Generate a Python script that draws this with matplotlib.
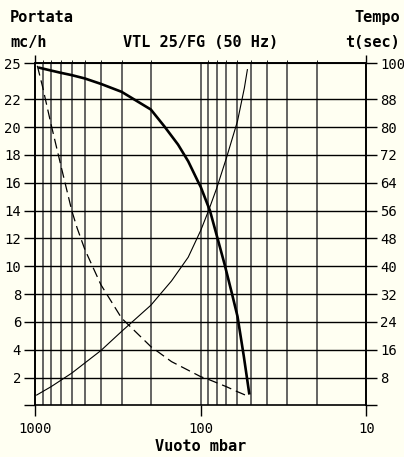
import numpy as np
import matplotlib.pyplot as plt
from matplotlib.ticker import NullFormatter, FixedLocator

# curva portata (mc/h) vs vuoto (mbar) - linea spessa
p_portata = [941, 800, 700, 600, 500, 400, 300, 200, 166, 137, 119, 104, 100, 88, 80, 72, 65, 60, 55, 51]
q_portata = [24.26, 24.06, 23.9, 23.73, 23.49, 23.1, 22.53, 21.26, 20.06, 18.74, 17.54, 16.1, 15.7,
             14.0, 12.2, 10.2, 8.1, 6.4, 3.56, 0.88]

# curva tempo (sec) - linea sottile, scala destra
p_tempo = [977, 800, 600, 400, 300, 200, 150, 119, 100, 90, 80, 70, 60, 54.5, 52.3]
t_tempo = [3.0, 5.4, 9.3, 15.8, 21.3, 28.8, 35.8, 42.6, 50.3, 55.8, 62.5, 71.1, 81.7, 91.3, 96.5]

# curva tratteggiata (scala sinistra)
p_tratt = [968, 900, 800, 700, 600, 557, 500, 400, 300, 200, 150, 100, 90, 70, 60, 51]
q_tratt = [24.4, 22.9, 20.2, 17.3, 14.0, 12.75, 11.2, 8.67, 6.27, 4.23, 3.15, 2.07, 1.88, 1.35, 0.99, 0.63]

left_ticks = [0, 2, 4, 6, 8, 10, 12, 14, 16, 18, 20, 22, 24.6]
left_labels = ["", "2", "4", "6", "8", "10", "12", "14", "16", "18", "20", "22", "25"]
right_ticks = [0, 8, 16, 24, 32, 40, 48, 56, 64, 72, 80, 88, 98.4]
right_labels = ["", "8", "16", "24", "32", "40", "48", "56", "64", "72", "80", "88", "100"]
x_major = [1000, 100, 10]
x_minor = [900, 800, 700, 600, 500, 400, 300, 200, 90, 80, 70, 60, 50, 40, 30, 20]

bg = "#fffff2"
font = "DejaVu Sans Mono"

fig = plt.figure(figsize=(4.04, 4.57), dpi=100, facecolor=bg)
ax = fig.add_axes([0.0866, 0.1127, 0.8205, 0.7494], facecolor=bg)

ax.set_xscale("log")
ax.set_xlim(1000, 10)
ax.set_ylim(0, 24.6)

# griglia
for x in x_minor + [100]:
    ax.axvline(x, color="#4a4a4a", lw=1.2, zorder=1)
for y in left_ticks[1:-1]:
    ax.axhline(y, color="black", lw=1.0, zorder=1)

ax.plot(p_portata, q_portata, color="black", lw=1.9, zorder=3)
ax.plot(p_tratt, q_tratt, color="black", lw=0.9, dashes=(8, 4), zorder=3)

ax2 = ax.twinx()
ax2.set_ylim(0, 98.4)
ax2.plot(p_tempo, t_tempo, color="black", lw=0.8, zorder=3)

ax.xaxis.set_major_locator(FixedLocator(x_major))
ax.xaxis.set_minor_locator(FixedLocator([]))
ax.xaxis.set_minor_formatter(NullFormatter())
ax.set_xticks(x_major)
ax.set_xticklabels(["1000", "100", "10"], fontfamily=font, fontsize=10)
ax.set_yticks(left_ticks)
ax.set_yticklabels(left_labels, fontfamily=font, fontsize=10)
ax2.set_yticks(right_ticks)
ax2.set_yticklabels(right_labels, fontfamily=font, fontsize=10)

ax.tick_params(axis="both", direction="out", length=8, width=1.0, pad=2)
ax2.tick_params(axis="y", direction="out", length=8, width=1.0, pad=2)
ax.tick_params(axis="x", pad=4)

# piccoli tratti sopra il bordo superiore agli estremi
sec = ax.secondary_xaxis("top")
sec.set_xticks([1000, 10])
sec.set_xticklabels(["", ""])
sec.tick_params(direction="out", length=6, width=1.0)

for a in (ax, ax2):
    for s in a.spines.values():
        s.set_linewidth(1.2)
ax2.spines["bottom"].set_visible(False)

ax.set_xlabel("Vuoto mbar", fontfamily=font, fontsize=11, fontweight="bold", labelpad=2)

fig.text(0.025, 0.962, "Portata", fontfamily=font, fontsize=11, fontweight="bold", va="center")
fig.text(0.025, 0.907, "mc/h", fontfamily=font, fontsize=11, fontweight="bold", va="center")
fig.text(0.497, 0.907, "VTL 25/FG (50 Hz)", fontfamily=font, fontsize=11, fontweight="bold",
         va="center", ha="center")
fig.text(0.99, 0.962, "Tempo", fontfamily=font, fontsize=11, fontweight="bold", va="center", ha="right")
fig.text(0.99, 0.907, "t(sec)", fontfamily=font, fontsize=11, fontweight="bold", va="center", ha="right")

plt.savefig("out.png", dpi=100, facecolor=bg)
plt.close()
